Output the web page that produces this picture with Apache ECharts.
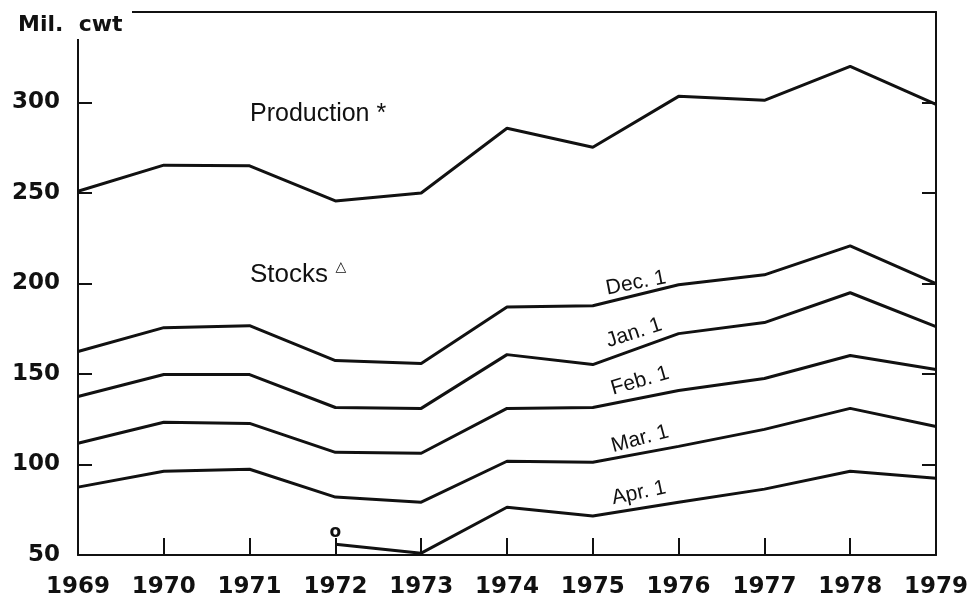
<!DOCTYPE html>
<html>
<head>
<meta charset="utf-8">
<script src="https://cdn.jsdelivr.net/npm/echarts@6/dist/echarts.min.js"></script>
<style>
html,body{margin:0;padding:0;background:#fff;}
#chart{width:971px;height:599px;}
</style>
</head>
<body>
<div id="chart"></div>
<script>
const years = ['1969','1970','1971','1972','1973','1974','1975','1976','1977','1978','1979'];
const production = [251, 265.4, 265, 245.6, 250, 285.8, 275.3, 303.4, 301.2, 320, 299];
const stocksDec = [162.4, 175.6, 176.7, 157.4, 155.8, 187, 187.7, 199.3, 204.8, 220.8, 199.9];
const stocksJan = [137.6, 149.7, 149.7, 131.5, 131, 160.7, 155.2, 172.3, 178.4, 194.9, 176.2];
const stocksFeb = [111.7, 123.3, 122.7, 106.7, 106.2, 131, 131.5, 140.9, 147.5, 160.2, 152.5];
const stocksMar = [87.5, 96.3, 97.4, 82, 79.2, 101.8, 101.2, 110, 119.4, 131, 121];
const stocksApr = [null, null, null, 56, 51, 76.4, 71.5, 79.2, 86.4, 96.3, 92.4];
const yTickLabels = [50, 100, 150, 200, 250, 300];
const footnoteIndex = 3;

const ink = '#111';
const chart = echarts.init(document.getElementById('chart'));

function lineSeries(name, data, extra) {
  return Object.assign({
    name: name, type: 'line', data: data, symbol: 'none', connectNulls: false,
    lineStyle: { color: ink, width: 3 }, z: 5
  }, extra || {});
}

const axisFont = { fontFamily: 'DejaVu Sans', fontWeight: 'bold', fontSize: 23, color: ink };

chart.setOption({
  animation: false,
  backgroundColor: '#fff',
  grid: { left: 78, right: 28, top: 12, bottom: 44, containLabel: false },
  xAxis: [
    { type: 'category', data: years, boundaryGap: false, position: 'bottom',
      axisLine: { show: true, lineStyle: { color: ink, width: 2 } },
      axisTick: { show: true, inside: true, length: 17, alignWithLabel: true, lineStyle: { color: ink, width: 2 } },
      axisLabel: Object.assign({ margin: 21, interval: 0 }, axisFont),
      splitLine: { show: false } },
    { type: 'category', data: years, boundaryGap: false, position: 'top',
      axisLine: { show: true, lineStyle: { color: ink, width: 2 } },
      axisTick: { show: false }, axisLabel: { show: false }, splitLine: { show: false } }
  ],
  yAxis: [
    { type: 'value', min: 50, max: 350, interval: 50, position: 'left',
      axisLine: { show: true, lineStyle: { color: ink, width: 2 } },
      axisTick: { show: true, inside: true, length: 14, lineStyle: { color: ink, width: 2 } },
      axisLabel: Object.assign({ margin: 18,
        formatter: v => yTickLabels.indexOf(v) >= 0 ? String(v) : '' }, axisFont),
      splitLine: { show: false } },
    { type: 'value', min: 50, max: 350, interval: 50, position: 'right',
      axisLine: { show: true, lineStyle: { color: ink, width: 2 } },
      axisTick: { show: true, inside: true, length: 14, lineStyle: { color: ink, width: 2 } },
      axisLabel: { show: false }, splitLine: { show: false } }
  ],
  series: [
    lineSeries('Production', production),
    lineSeries('Dec. 1', stocksDec),
    lineSeries('Jan. 1', stocksJan),
    lineSeries('Feb. 1', stocksFeb),
    lineSeries('Mar. 1', stocksMar),
    lineSeries('Apr. 1', stocksApr, {
      markPoint: {
        symbol: 'circle', symbolSize: 1, itemStyle: { color: 'rgba(0,0,0,0)' },
        label: { show: true, position: 'top', distance: 3, formatter: 'o',
          fontFamily: 'DejaVu Sans', fontWeight: 'bold', fontSize: 17, color: ink },
        data: [{ coord: [years[footnoteIndex], stocksApr[footnoteIndex]] }]
      }
    })
  ],
  graphic: [
    { type: 'rect', z: 100, shape: { x: 62, y: 0, width: 70, height: 39 }, style: { fill: '#fff' } },
    { type: 'text', z: 101, style: { x: 18, y: 25, text: 'Mil.  cwt', fill: ink,
      font: 'bold 22px "DejaVu Sans"', verticalAlign: 'middle', textAlign: 'left' } },
    { type: 'text', z: 101, style: { x: 250, y: 114, text: 'Production *', fill: ink,
      font: '25px "Liberation Sans"', verticalAlign: 'middle', textAlign: 'left' } },
    { type: 'text', z: 101, style: { x: 250, y: 275, text: 'Stocks', fill: ink,
      font: '26px "Liberation Sans"', verticalAlign: 'middle', textAlign: 'left' } },
    { type: 'text', z: 101, style: { x: 341, y: 267, text: '△', fill: ink,
      font: 'bold 14px "DejaVu Sans"', verticalAlign: 'middle', textAlign: 'center' } },
    { type: 'text', z: 101, x: 636, y: 283, rotation: 11 * Math.PI / 180,
      style: { x: 0, y: 0, text: 'Dec. 1', fill: ink, font: '21px "Liberation Sans"', verticalAlign: 'middle', textAlign: 'center' } },
    { type: 'text', z: 101, x: 634, y: 333, rotation: 18 * Math.PI / 180,
      style: { x: 0, y: 0, text: 'Jan. 1', fill: ink, font: '21px "Liberation Sans"', verticalAlign: 'middle', textAlign: 'center' } },
    { type: 'text', z: 101, x: 640, y: 381, rotation: 16 * Math.PI / 180,
      style: { x: 0, y: 0, text: 'Feb. 1', fill: ink, font: '21px "Liberation Sans"', verticalAlign: 'middle', textAlign: 'center' } },
    { type: 'text', z: 101, x: 640, y: 439, rotation: 15 * Math.PI / 180,
      style: { x: 0, y: 0, text: 'Mar. 1', fill: ink, font: '21px "Liberation Sans"', verticalAlign: 'middle', textAlign: 'center' } },
    { type: 'text', z: 101, x: 639, y: 493, rotation: 12 * Math.PI / 180,
      style: { x: 0, y: 0, text: 'Apr. 1', fill: ink, font: '21px "Liberation Sans"', verticalAlign: 'middle', textAlign: 'center' } }
  ]
});
</script>
</body>
</html>
